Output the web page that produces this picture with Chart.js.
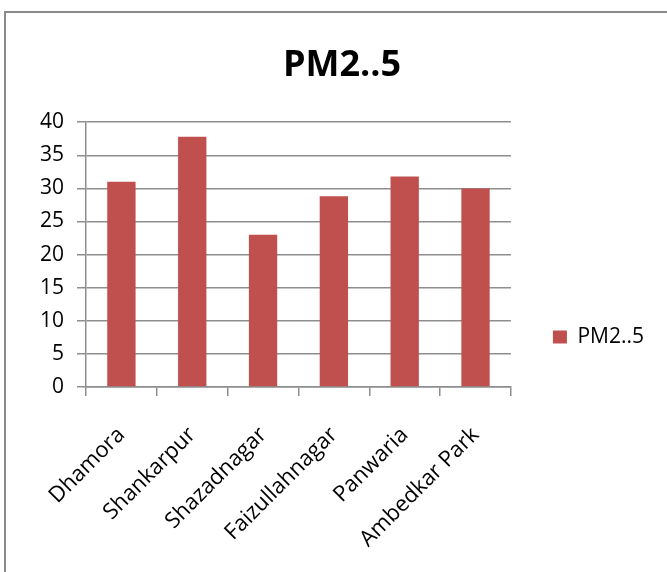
<!DOCTYPE html>
<html>
<head>
<meta charset="utf-8">
<script src="https://cdn.jsdelivr.net/npm/chart.js@4"></script>
<style>
  html, body { margin: 0; padding: 0; background: #ffffff; overflow: hidden; width: 667px; height: 572px; }
  #frame { position: absolute; left: 4px; top: 11px; width: 700px; height: 600px;
           border-left: 2px solid #8a8a8a; border-top: 2px solid #8a8a8a; }
  #chart { position: absolute; left: 30px; top: 0; }
</style>
</head>
<body>
<div id="frame"></div>
<canvas id="chart" width="624" height="674"></canvas>
<script>
// Monitoring sites and their PM2.5 readings
const sites = ['Dhamora', 'Shankarpur', 'Shazadnagar', 'Faizullahnagar', 'Panwaria', 'Ambedkar Park'];
const pm25 = [31, 37.8, 23, 28.8, 31.8, 30];
const seriesName = 'PM2..5';
const chartTitle = 'PM2..5';
const yMin = 0;
const yMax = 40;
const yStep = 5;

const FONT = "'Open Sans', 'DejaVu Sans', sans-serif";
const GRID = '#8e8e8e';

new Chart(document.getElementById('chart'), {
  type: 'bar',
  data: {
    labels: sites,
    datasets: [{
      label: seriesName,
      data: pm25,
      backgroundColor: '#c0504d',
      borderWidth: 0,
      categoryPercentage: 1,
      barPercentage: 0.4
    }]
  },
  options: {
    responsive: false,
    animation: false,
    layout: { padding: { left: 0, right: 0, top: 0, bottom: 0 } },
    plugins: {
      title: {
        display: true,
        text: chartTitle,
        color: '#000',
        font: { family: FONT, size: 36, weight: 'bold' },
        padding: { top: 44, bottom: 35 }
      },
      legend: {
        position: 'right',
        labels: {
          color: '#000',
          font: { family: FONT, size: 21 },
          boxWidth: 14,
          boxHeight: 13,
          padding: 42
        }
      },
      tooltip: { enabled: false }
    },
    scales: {
      x: {
        grid: { display: true, drawOnChartArea: false, drawTicks: true, tickLength: 9, color: GRID, lineWidth: 1.5, offset: true },
        border: { display: true, color: GRID, width: 1.5 },
        ticks: {
          color: '#000',
          font: { family: FONT, size: 22 },
          minRotation: 45,
          maxRotation: 45,
          padding: 26,
          autoSkip: false
        },
        // axis band runs from the plot floor to the canvas bottom;
        // the slanted first label may hang past the value axis
        afterFit: (scale) => {
          scale.height = 287;
          scale.paddingLeft = 0;
          scale.paddingRight = 0;
        }
      },
      y: {
        min: yMin,
        max: yMax,
        grid: { color: GRID, lineWidth: 1.5, tickLength: 9, drawTicks: true },
        border: { display: true, color: GRID, width: 1.5 },
        ticks: {
          stepSize: yStep,
          color: '#000',
          font: { family: FONT, size: 21 },
          padding: 13
        },
        afterFit: (scale) => { scale.width = 56; }
      }
    }
  }
});
</script>
</body>
</html>
